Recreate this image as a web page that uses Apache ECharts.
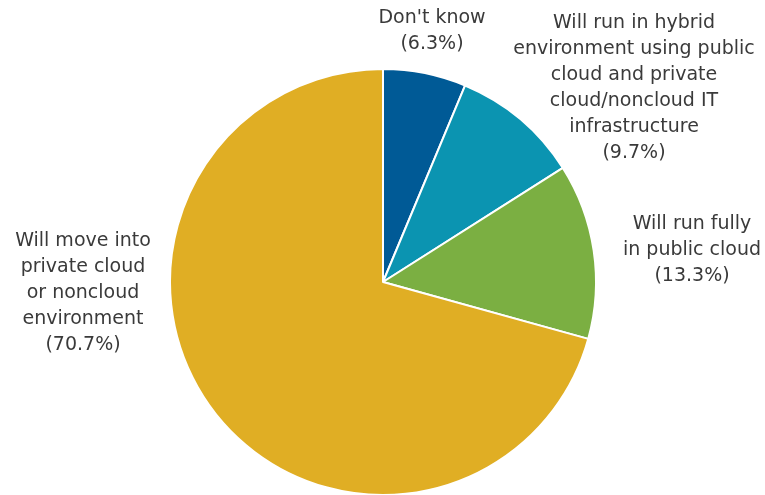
<!DOCTYPE html>
<html>
<head>
<meta charset="utf-8">
<script src="https://cdn.jsdelivr.net/npm/echarts@6/dist/echarts.min.js"></script>
<style>html,body{margin:0;padding:0;background:#fff}#c{width:765px;height:495px}</style>
</head>
<body>
<div id="c"></div>
<script>
const categories = [
  "Don't know",
  "Will run in hybrid\nenvironment using public\ncloud and private\ncloud/noncloud IT\ninfrastructure",
  "Will run fully\nin public cloud",
  "Will move into\nprivate cloud\nor noncloud\nenvironment"
];
const values = [6.3, 9.7, 13.3, 70.7];
const colors = ['#005A96', '#0B94B1', '#7BAF42', '#E0AE24'];
// label anchor (center) positions in px
const labelPos = [[432, 31], [634, 88], [692, 250], [83, 293]];

const chart = echarts.init(document.getElementById('c'), null, {renderer: 'canvas'});
chart.setOption({
  animation: false,
  series: [{
    type: 'pie',
    center: [383, 282],
    radius: [0, 213],
    startAngle: 90,
    clockwise: true,
    itemStyle: {borderColor: '#ffffff', borderWidth: 2},
    label: {
      show: true,
      position: 'outside',
      formatter: p => p.name + '\n(' + p.value.toFixed(1) + '%)',
      color: '#3a3a3a',
      fontFamily: 'DejaVu Sans',
      fontSize: 19,
      lineHeight: 26,
      align: 'center',
      width: 400,
      overflow: 'none'
    },
    labelLine: {show: false},
    labelLayout: function (params) {
      const p = labelPos[params.dataIndex];
      return {x: p[0], y: p[1], align: 'center', verticalAlign: 'middle'};
    },
    emphasis: {disabled: true},
    data: categories.map((c, i) => ({name: c, value: values[i], itemStyle: {color: colors[i]}}))
  }]
});
</script>
</body>
</html>
